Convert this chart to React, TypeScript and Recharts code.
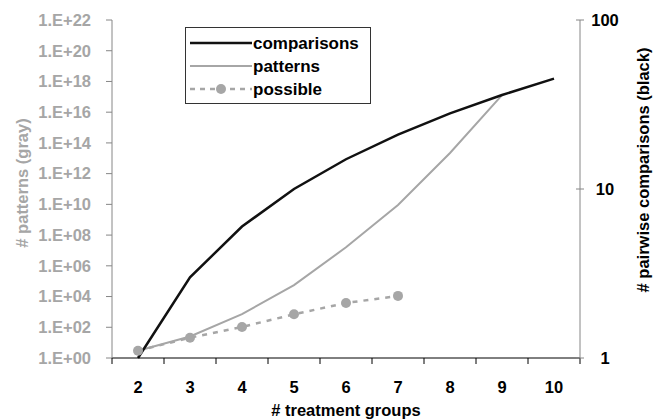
import { LineChart, Line, XAxis, YAxis } from "recharts";

const groups = ["2", "3", "4", "5", "6", "7", "8", "9", "10"];
const comparisons = [1, 3, 6, 10, 15, 21, 28, 36, 45];
const patterns = [3, 25, 7.2e2, 5.6e4, 1.6e7, 9e9, 2.2e13, 1.3e17, null];
const possible = [3, 21, 105, 700, 3.8e3, 1.1e4, null, null, null];
const leftTicks = [1, 1e2, 1e4, 1e6, 1e8, 1e10, 1e12, 1e14, 1e16, 1e18, 1e20, 1e22];
const rightTicks = [1, 10, 100];

const data = groups.map((g, i) => ({
  group: g,
  comparisons: comparisons[i],
  patterns: patterns[i],
  possible: possible[i],
}));

const GRAY = "#a6a6a6";
const AXIS_GRAY = "#868686";
const FONT = "'Liberation Sans', Arial, sans-serif";
const HALF_BAND = 26;

const sci = (v: number) => {
  const e = Math.round(Math.log10(v));
  return "1.E+" + String(e).padStart(2, "0");
};

function XTick(props: any) {
  const { x, y, payload, index } = props;
  const last = index === groups.length - 1;
  return (
    <g>
      <line x1={x - HALF_BAND} x2={x - HALF_BAND} y1={y} y2={y + 6} stroke="#000" />
      {last && <line x1={x + HALF_BAND} x2={x + HALF_BAND} y1={y} y2={y + 6} stroke="#000" />}
      <text x={x} y={y + 35} textAnchor="middle" fontSize={16.5} fontWeight="bold" fill="#000" fontFamily={FONT}>
        {payload.value}
      </text>
    </g>
  );
}

function RightTick(props: any) {
  const { x, y, payload } = props;
  return (
    <g>
      <line x1={x - 4} x2={x + 4} y1={y} y2={y} stroke={AXIS_GRAY} />
      <text x={x + 25} y={y + 6} textAnchor="middle" fontSize={16.5} fontWeight="bold" fill="#000" fontFamily={FONT}>
        {payload.value}
      </text>
    </g>
  );
}

function LegendBox() {
  const rows = [
    { name: "comparisons", color: "#111", dash: undefined, dot: false, w: 2.5 },
    { name: "patterns", color: GRAY, dash: undefined, dot: false, w: 2 },
    { name: "possible", color: GRAY, dash: "5 5", dot: true, w: 2.5 },
  ];
  return (
    <svg width={186} height={77} style={{ display: "block" }}>
      <rect x={0.5} y={0.5} width={185} height={76} fill="#fff" stroke="#333" />
      {rows.map((r, i) => {
        const cy = 16 + i * 23;
        return (
          <g key={r.name}>
            <line x1={5} x2={67} y1={cy} y2={cy} stroke={r.color} strokeWidth={r.w} strokeDasharray={r.dash} />
            {r.dot && <circle cx={36} cy={cy} r={5} fill={GRAY} />}
            <text x={68} y={cy + 6} fontSize={17} fontWeight="bold" fill="#000" fontFamily={FONT}>
              {r.name}
            </text>
          </g>
        );
      })}
    </svg>
  );
}

export default function App() {
  return (
    <div style={{ position: "absolute", left: 0, top: 0, width: 653, height: 419, background: "#fff" }}>
      <LineChart width={653} height={419} data={data} margin={{ top: 20, right: 0, bottom: 0, left: 0 }}>
        <XAxis
          dataKey="group"
          scale="band"
          height={61}
          axisLine={{ stroke: "#000" }}
          tickLine={false}
          tickSize={0}
          tickMargin={0}
          interval={0}
          tick={<XTick />}
          label={({ viewBox }: any) => (
            <text
              x={viewBox.x + viewBox.width / 2}
              y={viewBox.y + 58}
              textAnchor="middle"
              fontSize={16.5}
              fontWeight="bold"
              fill="#000"
              fontFamily={FONT}
            >
              # treatment groups
            </text>
          )}
        />
        <YAxis
          yAxisId="left"
          scale="log"
          domain={[1, 1e22]}
          ticks={leftTicks}
          tickFormatter={sci}
          width={112}
          axisLine={{ stroke: AXIS_GRAY }}
          tickLine={{ stroke: AXIS_GRAY }}
          tickSize={6}
          tickMargin={15}
          interval={0}
          tick={{ fill: GRAY, fontSize: 16.5, fontWeight: "bold", fontFamily: FONT }}
          label={({ viewBox }: any) => {
            const cx = viewBox.x + 22;
            const cy = 183;
            return (
              <text
                x={cx}
                y={cy}
                transform={`rotate(-90, ${cx}, ${cy})`}
                textAnchor="middle"
                dominantBaseline="central"
                fontSize={16.5}
                fontWeight="bold"
                fill={GRAY}
                fontFamily={FONT}
              >
                # patterns (gray)
              </text>
            );
          }}
        />
        <YAxis
          yAxisId="right"
          orientation="right"
          scale="log"
          domain={[1, 100]}
          ticks={rightTicks}
          width={73}
          axisLine={{ stroke: AXIS_GRAY }}
          tickLine={false}
          tickSize={0}
          tickMargin={0}
          interval={0}
          tick={<RightTick />}
          label={({ viewBox }: any) => {
            const cx = viewBox.x + 63;
            const cy = 170;
            return (
              <text
                x={cx}
                y={cy}
                transform={`rotate(-90, ${cx}, ${cy})`}
                textAnchor="middle"
                dominantBaseline="central"
                fontSize={16.5}
                fontWeight="bold"
                fill="#000"
                fontFamily={FONT}
              >
                # pairwise comparisons (black)
              </text>
            );
          }}
        />
        <Line
          yAxisId="left"
          dataKey="possible"
          stroke={GRAY}
          strokeWidth={2.5}
          strokeDasharray="5 6"
          dot={{ r: 5, fill: GRAY, stroke: "none", strokeDasharray: "" }}
          isAnimationActive={false}
        />
        <Line
          yAxisId="left"
          dataKey="patterns"
          stroke={GRAY}
          strokeWidth={2}
          dot={false}
          isAnimationActive={false}
        />
        <Line
          yAxisId="right"
          dataKey="comparisons"
          stroke="#111"
          strokeWidth={2.5}
          dot={false}
          isAnimationActive={false}
        />
      </LineChart>
      <div style={{ position: "absolute", left: 185, top: 27 }}>
        <LegendBox />
      </div>
    </div>
  );
}
